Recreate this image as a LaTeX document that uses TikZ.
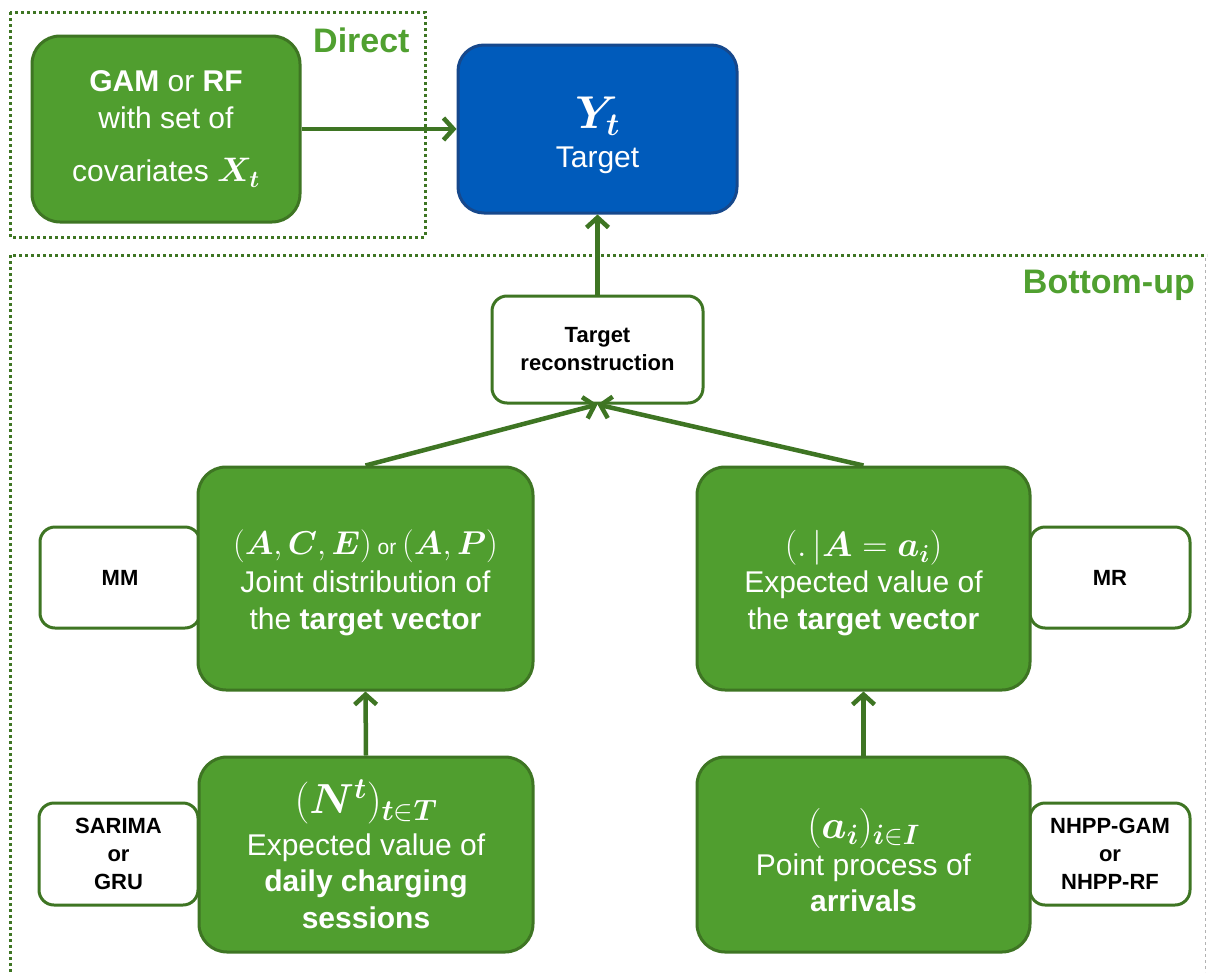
\RequirePackage{fix-cm}
\documentclass[tikz,border=0pt]{standalone}
\usepackage{amsmath}
\usepackage{bm}
\usepackage[no-math]{fontspec}
\setmainfont{Liberation Sans}
\usetikzlibrary{arrows.meta}
\definecolor{gfill}{RGB}{80,158,47}
\definecolor{gdark}{RGB}{62,117,35}
\definecolor{bfill}{RGB}{0,91,187}
\definecolor{bdark}{RGB}{22,72,140}
\definecolor{gtext}{RGB}{80,160,48}
\newcommand{\topstrut}[1]{\rule{0pt}{#1}}
\tikzset{
  gbox/.style={rounded corners=28pt, fill=gfill, draw=gdark, line width=3pt, text=white,
    align=center, inner sep=0pt, font=\fontsize{30}{37}\selectfont},
  bbox/.style={rounded corners=26pt, fill=bfill, draw=bdark, line width=3pt, text=white,
    align=center, inner sep=0pt, font=\fontsize{30}{37}\selectfont},
  wbox/.style={rounded corners=15pt, fill=white, draw=gdark, line width=3pt, text=black,
    align=center, inner sep=0pt, font=\bfseries\fontsize{22}{28}\selectfont},
  frame/.style={draw=gdark, line width=3pt, dash pattern=on 3pt off 3pt},
  conn/.style={draw=gdark, line width=4.5pt, -{Straight Barb[length=10pt,width=22pt]}},
  title/.style={text=gtext, font=\bfseries\fontsize{34}{40}\selectfont, inner sep=0pt}
}
\begin{document}
\begin{tikzpicture}[x=1pt,y=-1pt]
\useasboundingbox (0,0) rectangle (1210,972);
\fill[white] (0,0) rectangle (1210,972);
% frames
\draw[frame] (10,12) rectangle (425,237);
\draw[frame] (10,972) -- (10,255) -- (1207,255);
\draw[gray!60, dashed, line width=1pt] (1205,258) -- (1205,972);
\node[title, anchor=base west] (direct) at (313,52) {Direct};
\node[title, anchor=base east] (bottomup) at (1195,293) {Bottom-up};
% side boxes
\node[wbox, minimum width=160pt, minimum height=101pt] (mm) at (120,577.5) {MM};
\node[wbox, minimum width=160pt, minimum height=101pt] (mr) at (1110,577.5) {MR};
\node[wbox, minimum width=159pt, minimum height=102pt] (sar) at (118.5,854) {SARIMA\\or\\GRU};
\node[wbox, minimum width=160pt, minimum height=102pt] (nhpp) at (1110,854) {NHPP-GAM\\or\\NHPP-RF};
% main boxes
\node[gbox, minimum width=268pt, minimum height=186pt] (gam) at (166,129)
  {\textbf{GAM} or \textbf{RF}\\with set of\\[16pt]covariates {\fontsize{34}{34}\selectfont$\bm{X_t}$}};
\node[bbox, minimum width=279pt, minimum height=168pt] (yt) at (597.5,129)
  {\topstrut{43.5pt}{\fontsize{46}{46}\selectfont$\bm{Y_t}$}\\[2pt]Target};
\node[wbox, minimum width=211pt, minimum height=107pt] (tr) at (597.5,349.5)
  {Target\\reconstruction};
\node[gbox, minimum width=335pt, minimum height=223pt] (jd) at (365.5,578.5)
  {\topstrut{34pt}{\fontsize{33}{33}\selectfont$(\bm{A},\bm{C},\bm{E})$}{\fontsize{21}{21}\selectfont\ or\ }{\fontsize{33}{33}\selectfont$(\bm{A},\bm{P})$}\\[1pt]Joint distribution of\\the \textbf{target vector}};
\node[gbox, minimum width=333pt, minimum height=223pt] (er) at (863.5,578.5)
  {\topstrut{36pt}{\fontsize{35}{35}\selectfont$(.\,|\bm{A}=\bm{a}_{\bm{i}})$}\\[-1pt]Expected value of\\the \textbf{target vector}};
\node[gbox, minimum width=334pt, minimum height=195pt] (nt) at (366,854.5)
  {{\fontsize{42}{42}\selectfont$(\bm{N}^{\bm{t}})_{\bm{t}\in\bm{T}}$}\\[5pt]Expected value of\\[-1pt]\textbf{daily charging}\\\textbf{sessions}};
\node[gbox, minimum width=333pt, minimum height=195pt] (ai) at (863.5,854.5)
  {\topstrut{42pt}{\fontsize{40}{40}\selectfont$(\bm{a}_{\bm{i}})_{\bm{i}\in\bm{I}}$}\\Point process of\\[-1pt]\textbf{arrivals}};
% connectors
\draw[conn] (gam.east) -- (gam.east -| yt.west);
\draw[conn] (tr.north) -- (yt.south);
\draw[conn] (jd.north) -- (tr.south);
\draw[conn] (er.north) -- (tr.south);
\draw[conn] (nt.north) -- (jd.south);
\draw[conn] (ai.north) -- (er.south);
\end{tikzpicture}
\end{document}
